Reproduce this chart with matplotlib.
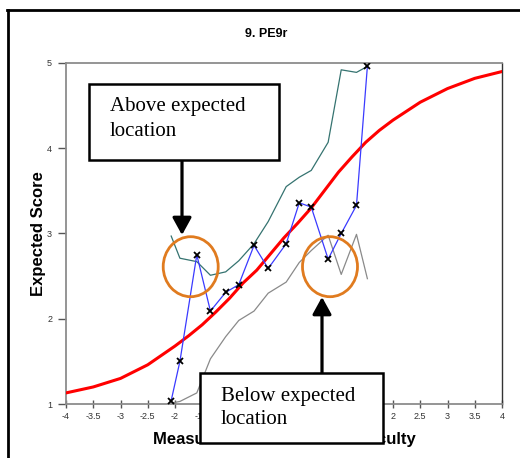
import matplotlib
matplotlib.use("Agg")
import matplotlib.pyplot as plt
from matplotlib.patches import Rectangle, Ellipse, FancyArrowPatch
from matplotlib.lines import Line2D

# ---- data ----
curve_x = [-4, -3.5, -3, -2.5, -2, -1.75, -1.5, -1.25, -1, -0.75, -0.5, -0.25,
           0, 0.25, 0.5, 0.75, 1, 1.25, 1.5, 1.75, 2, 2.5, 3, 3.5, 4]
curve_y = [1.13, 1.20, 1.30, 1.46, 1.68, 1.80, 1.93, 2.08, 2.24, 2.42, 2.57, 2.76,
           2.95, 3.12, 3.30, 3.51, 3.72, 3.90, 4.07, 4.21, 4.33, 4.54, 4.70, 4.82, 4.90]

obs_x = [-2.07, -1.91, -1.60, -1.35, -1.07, -0.83, -0.55, -0.29, 0.04, 0.28,
         0.50, 0.81, 1.05, 1.33, 1.53]
obs_y = [1.04, 1.50, 2.75, 2.09, 2.31, 2.40, 2.86, 2.59, 2.88, 3.36,
         3.31, 2.70, 3.00, 3.33, 4.96]
upper_y = [2.97, 2.71, 2.67, 2.51, 2.55, 2.68, 2.88, 3.14, 3.55, 3.66,
           3.74, 4.07, 4.92, 4.89, 4.96]
lower_y = [1.01, 1.03, 1.13, 1.53, 1.79, 1.98, 2.09, 2.30, 2.43, 2.66,
           2.80, 2.98, 2.52, 2.99, 2.47]

x_ticks = [-4, -3.5, -3, -2.5, -2, -1.5, -1, -0.5, 0, 0.5, 1, 1.5, 2, 2.5, 3, 3.5, 4]
x_tick_labels = ["-4", "-3.5", "-3", "-2.5", "-2", "-1.5", "-1", "-0.5", "0",
                 "0.5", "1", "1.5", "2", "2.5", "3", "3.5", "4"]
y_ticks = [1, 2, 3, 4, 5]

title = "9. PE9r"
xlabel = "Measure relative to item difficulty"
ylabel = "Expected Score"
note_above = "Above expected\nlocation"
note_below = "Below expected\nlocation"

# ---- figure ----
W, H = 520, 458
fig = plt.figure(figsize=(W / 100, H / 100), dpi=100)
plt.rcParams['font.family'] = ['Liberation Sans', 'DejaVu Sans']

def fx(px):
    return px / W

def fy(py):
    return 1 - py / H

ax = fig.add_axes([fx(66), fy(404), fx(502) - fx(66), fy(63) - fy(404)])
ax.set_xlim(-4, 4)
ax.set_ylim(1, 5)

ax.plot(curve_x, curve_y, color='#ff0000', lw=2.2, zorder=3)
ax.plot(obs_x, upper_y, color='#357370', lw=0.9, zorder=2)
ax.plot(obs_x, lower_y, color='#8a8a8a', lw=0.9, zorder=2)
ax.plot(obs_x, obs_y, color='#3a3aff', lw=0.9, zorder=4)
ax.plot(obs_x, obs_y, ls='none', marker='x', color='black', ms=4, mew=1.3, zorder=5)

ax.set_xticks(x_ticks)
ax.set_xticklabels(x_tick_labels)
ax.set_yticks(y_ticks)
ax.tick_params(axis='x', direction='inout', length=6, width=1, color='#555555',
               labelsize=6.5, labelcolor='#333333', pad=3)
ax.tick_params(axis='y', direction='out', length=6, width=1, color='#555555',
               labelsize=6.5, labelcolor='#333333', pad=4)
for side in ['left', 'bottom', 'top']:
    ax.spines[side].set_color('#8c8c8c')
    ax.spines[side].set_linewidth(1.3)
ax.spines['right'].set_color('#333333')
ax.spines['right'].set_linewidth(1.0)

ax.set_xlabel(xlabel, fontsize=12, fontweight='bold', labelpad=8)
ax.set_ylabel(ylabel, fontsize=12, fontweight='bold', labelpad=1)

fig.text(fx(266), fy(34), title, fontsize=9, fontweight='bold',
         ha='center', va='center')

# outer frame
fig.add_artist(Line2D([fx(8), fx(8)], [fy(10), fy(470)], color='black', lw=2,
                      transform=fig.transFigure))
fig.add_artist(Line2D([fx(7), fx(530)], [fy(10), fy(10)], color='black', lw=2,
                      transform=fig.transFigure))

# orange circles
for cx in (190.7, 330):
    fig.add_artist(Ellipse((fx(cx), fy(266.7)), 55 / W, 60 / H, fill=False,
                           edgecolor='#e07b1f', lw=2, transform=fig.transFigure,
                           zorder=6))

# arrows
fig.add_artist(FancyArrowPatch((fx(182), fy(160)), (fx(182), fy(235)),
                               arrowstyle='-|>,head_length=0.4,head_width=0.22',
                               mutation_scale=26, lw=2.3, color='black',
                               shrinkA=0, shrinkB=0, transform=fig.transFigure,
                               zorder=7))
fig.add_artist(FancyArrowPatch((fx(322), fy(373)), (fx(322), fy(297)),
                               arrowstyle='-|>,head_length=0.4,head_width=0.22',
                               mutation_scale=26, lw=2.3, color='black',
                               shrinkA=0, shrinkB=0, transform=fig.transFigure,
                               zorder=7))

# note boxes
fig.add_artist(Rectangle((fx(89), fy(160)), (279 - 89) / W, (160 - 84) / H,
                         facecolor='white', edgecolor='black', lw=1.8,
                         transform=fig.transFigure, zorder=8))
fig.text(fx(110), fy(119), note_above, fontsize=15, family='Liberation Serif',
         ha='left', va='center', linespacing=1.4, zorder=9)
fig.add_artist(Rectangle((fx(200), fy(443)), (383 - 200) / W, (443 - 373) / H,
                         facecolor='white', edgecolor='black', lw=1.8,
                         transform=fig.transFigure, zorder=8))
fig.text(fx(221), fy(408), note_below, fontsize=15, family='Liberation Serif',
         ha='left', va='center', linespacing=1.35, zorder=9)

fig.savefig("out.png", dpi=100)
